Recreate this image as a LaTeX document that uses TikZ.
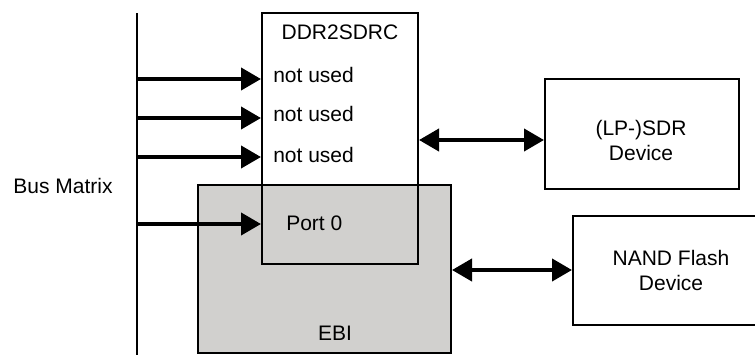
\documentclass[tikz,border=0pt]{standalone}
\usepackage{fontspec}
\setmainfont{Liberation Sans}
\usetikzlibrary{arrows.meta}
\definecolor{ebigray}{HTML}{D1D0CE}

\begin{document}
\begin{tikzpicture}[x=0.75pt,y=-0.75pt,
  box/.style={draw, line width=1.5pt, inner sep=0pt},
  lbl/.style={font=\fontsize{15.75}{18.75}\selectfont, inner sep=0pt, align=center},
  busarrow/.style={line width=3pt, -{Triangle[length=15pt,width=16.5pt]}},
  dblarrow/.style={line width=3pt, {Triangle[length=15pt,width=16.5pt]}-{Triangle[length=15pt,width=16.5pt]}}]
\useasboundingbox (0,0) rectangle (755,354);
\clip (0,0) rectangle (755,354);

% Bus matrix line
\coordinate (bustop) at (137,13);
\coordinate (busbot) at (137,360);
\draw[line width=1.5pt] (bustop) -- (busbot);
\node[lbl] (busname) at (63,186) {Bus Matrix};

% EBI and DDR2SDRC (EBI behind)
\node[box, fill=ebigray, minimum width=189.75pt, minimum height=126pt] (ebi) at (324.5,269) {};
\node[box, minimum width=117pt, minimum height=188.25pt] (ddr) at (340,138.5) {};
\node[lbl] (ddrname) at (340,32) {DDR2SDRC};
\node[lbl] (ebiname) at (335,333.5) {EBI};

% Ports
\node[lbl, anchor=west] (nu1) at (273,75) {not used};
\node[lbl, anchor=west] (nu2) at (273,114) {not used};
\node[lbl, anchor=west] (nu3) at (273,155) {not used};
\node[lbl, anchor=west] (port0) at (286,223) {Port 0};

% Devices
\node[box, minimum width=145.5pt, minimum height=82.5pt] (sdr) at (642,134) {};
\node[lbl] (sdrtxt) at (641,140) {(LP-)SDR\\Device};
\node[box, minimum width=147pt, minimum height=81.75pt] (nand) at (671,270.5) {};
\node[lbl] (nandtxt) at (671,270) {NAND Flash\\Device};

% Bus arrows into the controller
\foreach \i/\y in {1/79,2/118,3/157,4/224} {
  \coordinate (in\i) at (137,\y);
  \draw[busarrow] (in\i) -- (in\i -| ddr.west);
}

% Memory connections
\draw[dblarrow] (ddr.east |- sdrtxt) -- (sdr.west |- sdrtxt);
\draw[dblarrow] (ebi.east |- nandtxt) -- (nand.west |- nandtxt);
\end{tikzpicture}
\end{document}
